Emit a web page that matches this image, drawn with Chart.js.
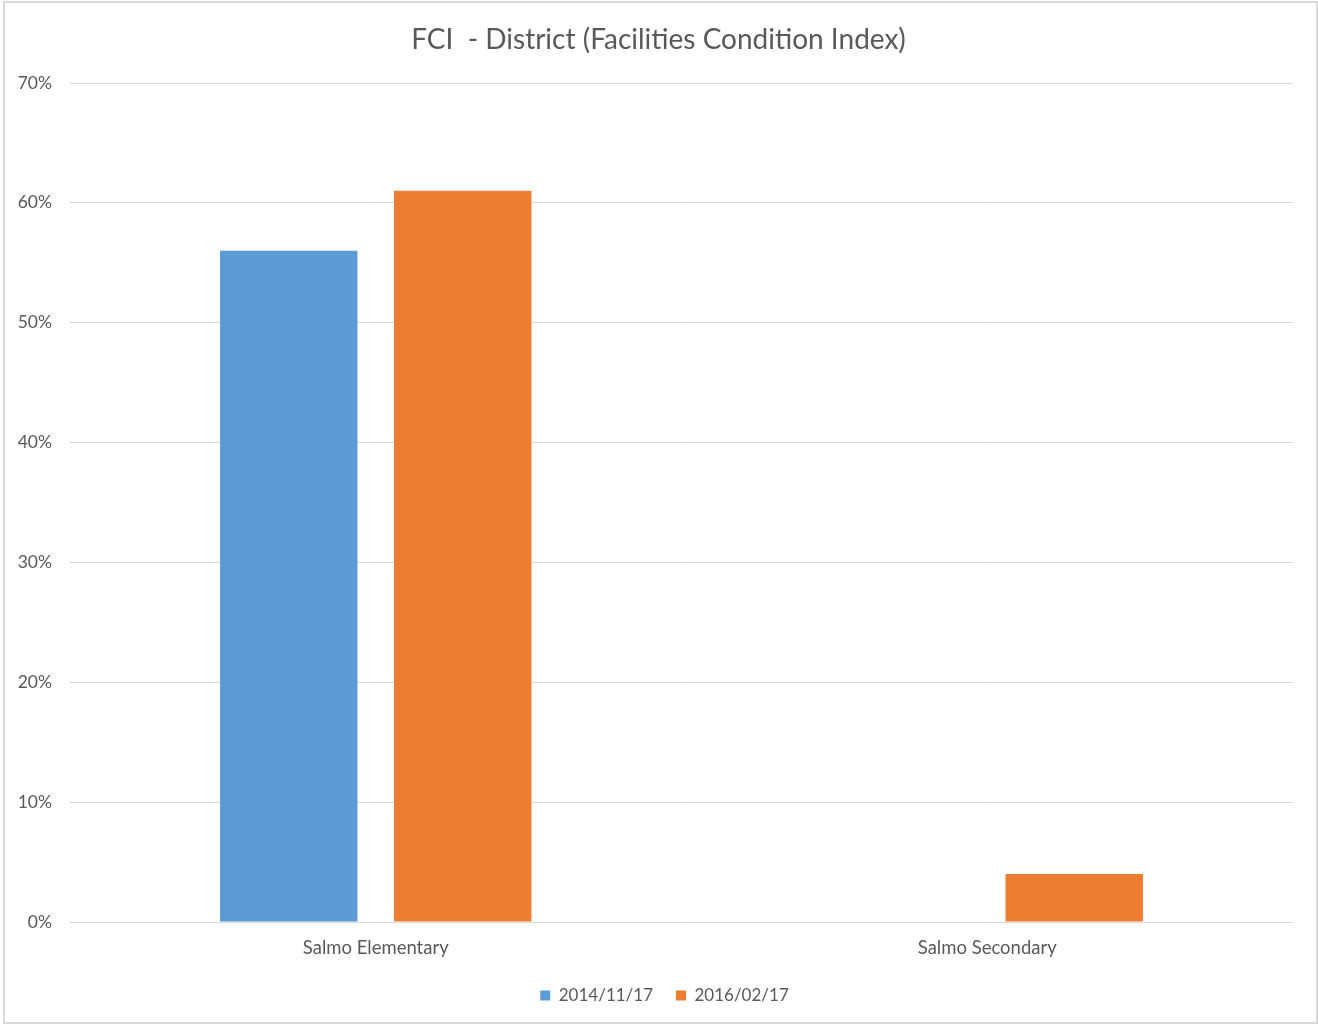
<!DOCTYPE html>
<html>
<head>
<meta charset="utf-8">
<script src="https://cdn.jsdelivr.net/npm/chart.js@4.4.1/dist/chart.umd.min.js"></script>
<style>
  html, body { margin: 0; padding: 0; background: #fff; }
  #frame {
    position: absolute; left: 3px; top: 1px; width: 1311px; height: 1019px;
    border: 2px solid #d9d9d9; pointer-events: none;
  }
  #wrap { position: absolute; left: 0; top: 0; width: 1318px; height: 1024px; }
</style>
</head>
<body>
<div id="wrap"><canvas id="fciChart"></canvas></div>
<div id="frame"></div>
<script>
// --- DATA ---
const categories = ["Salmo Elementary", "Salmo Secondary"];
const seriesNames = ["2014/11/17", "2016/02/17"];
const fci2014 = [56, null];
const fci2016 = [61, 4];
const yTicks = [0, 10, 20, 30, 40, 50, 60, 70];

const textColor = '#595959';
const gridColor = '#d9d9d9';
const fontFamily = 'Lato, "Open Sans", sans-serif';

// nudge title + legend a little right, the original centres them over the plot
const nudgeBoxes = {
    id: 'nudgeBoxes',
    afterLayout(chart) {
        if (chart.legend) { chart.legend.left += 18; chart.legend.right += 18; }
        if (chart.titleBlock) { chart.titleBlock.left += 12; chart.titleBlock.right += 12; }
    }
};

const ctx = document.getElementById('fciChart').getContext('2d');

new Chart(ctx, {
    type: 'bar',
    data: {
        labels: categories,
        datasets: [
            { label: seriesNames[0], data: fci2014, backgroundColor: '#5b9bd5' },
            { label: seriesNames[1], data: fci2016, backgroundColor: '#ed7d31' }
        ]
    },
    plugins: [nudgeBoxes],
    options: {
        responsive: true,
        maintainAspectRatio: false,
        animation: false,
        categoryPercentage: 0.569,
        barPercentage: 0.79,
        layout: { padding: { left: 0, right: 25, top: 0, bottom: 10 } },
        plugins: {
            title: {
                display: true,
                text: 'FCI  - District (Facilities Condition Index)',
                color: textColor,
                font: { family: fontFamily, size: 28, weight: 'normal' },
                padding: { top: 23, bottom: 26.4 }
            },
            legend: {
                position: 'bottom',
                labels: {
                    color: textColor,
                    font: { family: fontFamily, size: 17 },
                    boxWidth: 10,
                    boxHeight: 10,
                    padding: 23
                }
            },
            tooltip: { enabled: false }
        },
        scales: {
            x: {
                grid: { display: false, drawTicks: false },
                border: { display: false },
                afterFit: (scale) => { scale.height = 42; },
                ticks: {
                    color: textColor,
                    font: { family: fontFamily, size: 18.5 },
                    padding: 14.5
                }
            },
            y: {
                min: yTicks[0],
                max: yTicks[yTicks.length - 1],
                grid: { color: gridColor, drawTicks: false },
                border: { display: false },
                afterFit: (scale) => { scale.width = 70; },
                afterBuildTicks: (scale) => {
                    scale.ticks = yTicks.map(v => ({ value: v }));
                },
                ticks: {
                    color: textColor,
                    font: { family: fontFamily, size: 17.5 },
                    padding: 18,
                    callback: (v) => v + '%'
                }
            }
        }
    }
});
</script>
</body>
</html>
